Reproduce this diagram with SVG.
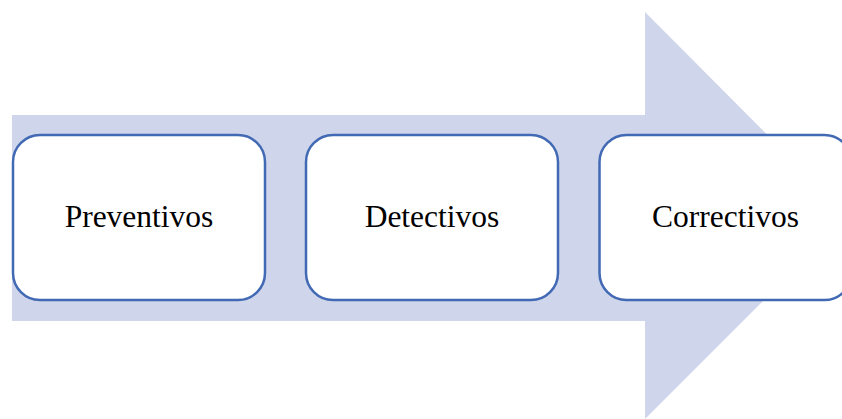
<svg xmlns="http://www.w3.org/2000/svg" width="842" height="419" viewBox="0 0 842 419">
  <style>
    .box { fill: #FFFFFF; stroke: #4169B4; stroke-width: 2.5; }
    .label { font-family: "Liberation Serif", "Times New Roman", serif; font-size: 31.5px; fill: #000000; text-anchor: middle; }
  </style>
  <rect width="842" height="419" fill="#FFFFFF"/>
  <!-- background process arrow -->
  <g id="process-arrow">
    <polygon points="12,115 645,115 645,12 848,216 645,419 645,321 12,321" fill="#CFD5EA"/>
  </g>
  <g id="connectors"></g>
  <g id="preventivos">
    <rect class="box" x="13" y="135" width="252" height="165" rx="27" ry="27"/>
    <text class="label" x="139" y="227">Preventivos</text>
  </g>
  <g id="detectivos">
    <rect class="box" x="306" y="135" width="252" height="165" rx="27" ry="27"/>
    <text class="label" x="432" y="227">Detectivos</text>
  </g>
  <g id="correctivos">
    <rect class="box" x="599.5" y="135" width="252" height="165" rx="27" ry="27"/>
    <text class="label" x="725.5" y="227">Correctivos</text>
  </g>
</svg>
